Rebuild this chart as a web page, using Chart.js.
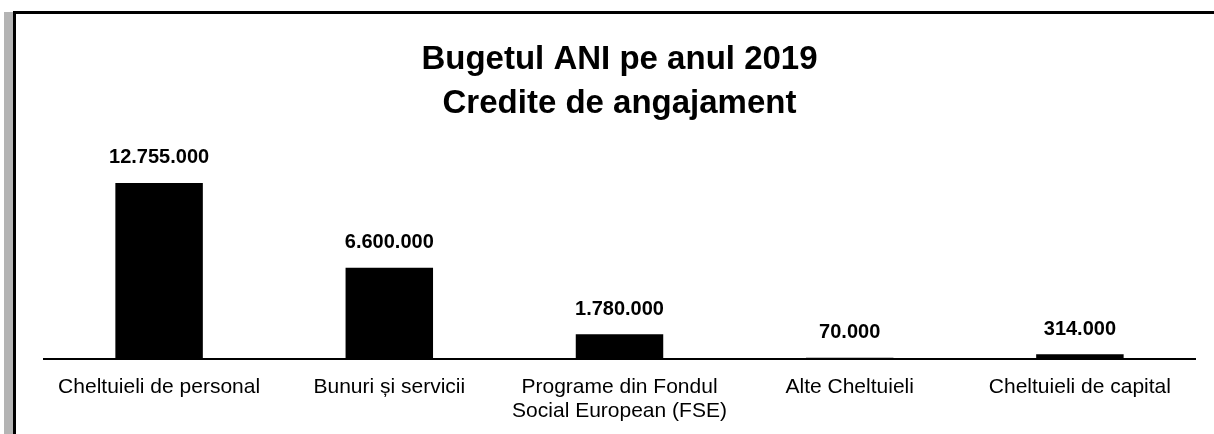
<!DOCTYPE html>
<html>
<head>
<meta charset="utf-8">
<script src="https://cdn.jsdelivr.net/npm/chart.js@4"></script>
<style>
  html, body { margin:0; padding:0; background:#fff; }
  #wrap { position:relative; width:1214px; height:434px; }
</style>
</head>
<body>
<div id="wrap"><canvas id="chart" width="1214" height="434"></canvas></div>
<script>
// Date
const categories = [
  "Cheltuieli de personal",
  "Bunuri și servicii",
  ["Programe din Fondul", "Social European (FSE)"],
  "Alte Cheltuieli",
  "Cheltuieli de capital"
];
const values = [12755000, 6600000, 1780000, 70000, 314000];
const titleLines = ["Bugetul ANI pe anul 2019", "Credite de angajament"];

// 12755000 -> "12.755.000"
const fmt = v => String(v).replace(/\B(?=(\d{3})+(?!\d))/g, ".");

// chenarul scanat (linia de sus + stanga)
const framePlugin = {
  id: 'frame',
  beforeDraw(chart) {
    const c = chart.ctx;
    c.save();
    c.fillStyle = '#fff';
    c.fillRect(0, 0, chart.width, chart.height);
    // banda gri din stanga
    c.fillStyle = '#b4b4b4';
    c.fillRect(4, 12, 9, chart.height - 12);
    c.fillStyle = '#000';
    c.fillRect(14, 11, chart.width - 14, 3);
    c.fillRect(13, 11, 3, chart.height - 11);
    c.restore();
  }
};

// valorile deasupra barelor
const valueLabels = {
  id: 'valueLabels',
  afterDatasetsDraw(chart) {
    const c = chart.ctx;
    const meta = chart.getDatasetMeta(0);
    c.save();
    c.font = 'bold 20px "Liberation Sans", Arial, sans-serif';
    c.fillStyle = '#000';
    c.textAlign = 'center';
    c.textBaseline = 'middle';
    meta.data.forEach((bar, i) => {
      c.fillText(fmt(values[i]), bar.x, bar.y - 25);
    });
    c.restore();
  }
};

new Chart(document.getElementById('chart'), {
  type: 'bar',
  data: {
    labels: categories,
    datasets: [{
      data: values,
      backgroundColor: '#000',
      borderWidth: 0,
      barPercentage: 0.38,
      categoryPercentage: 1
    }]
  },
  options: {
    responsive: false,
    animation: false,
    layout: { padding: { left: 44, right: 19, top: 0, bottom: -5 } },
    plugins: {
      legend: { display: false },
      tooltip: { enabled: false },
      title: {
        display: true,
        text: titleLines,
        color: '#000',
        font: { family: '"Liberation Sans", Arial, sans-serif', size: 33, weight: 'bold', lineHeight: 1.36 },
        padding: { top: 37, bottom: 39 }
      }
    },
    scales: {
      x: {
        grid: { display: false, drawTicks: false },
        border: { display: true, color: '#000', width: 2 },
        ticks: {
          color: '#000',
          padding: 16,
          maxRotation: 0,
          autoSkip: false,
          font: { family: '"Liberation Sans", Arial, sans-serif', size: 21, lineHeight: 1.15 }
        }
      },
      y: {
        display: false,
        min: 0,
        max: 14000000
      }
    }
  },
  plugins: [framePlugin, valueLabels]
});
</script>
</body>
</html>
